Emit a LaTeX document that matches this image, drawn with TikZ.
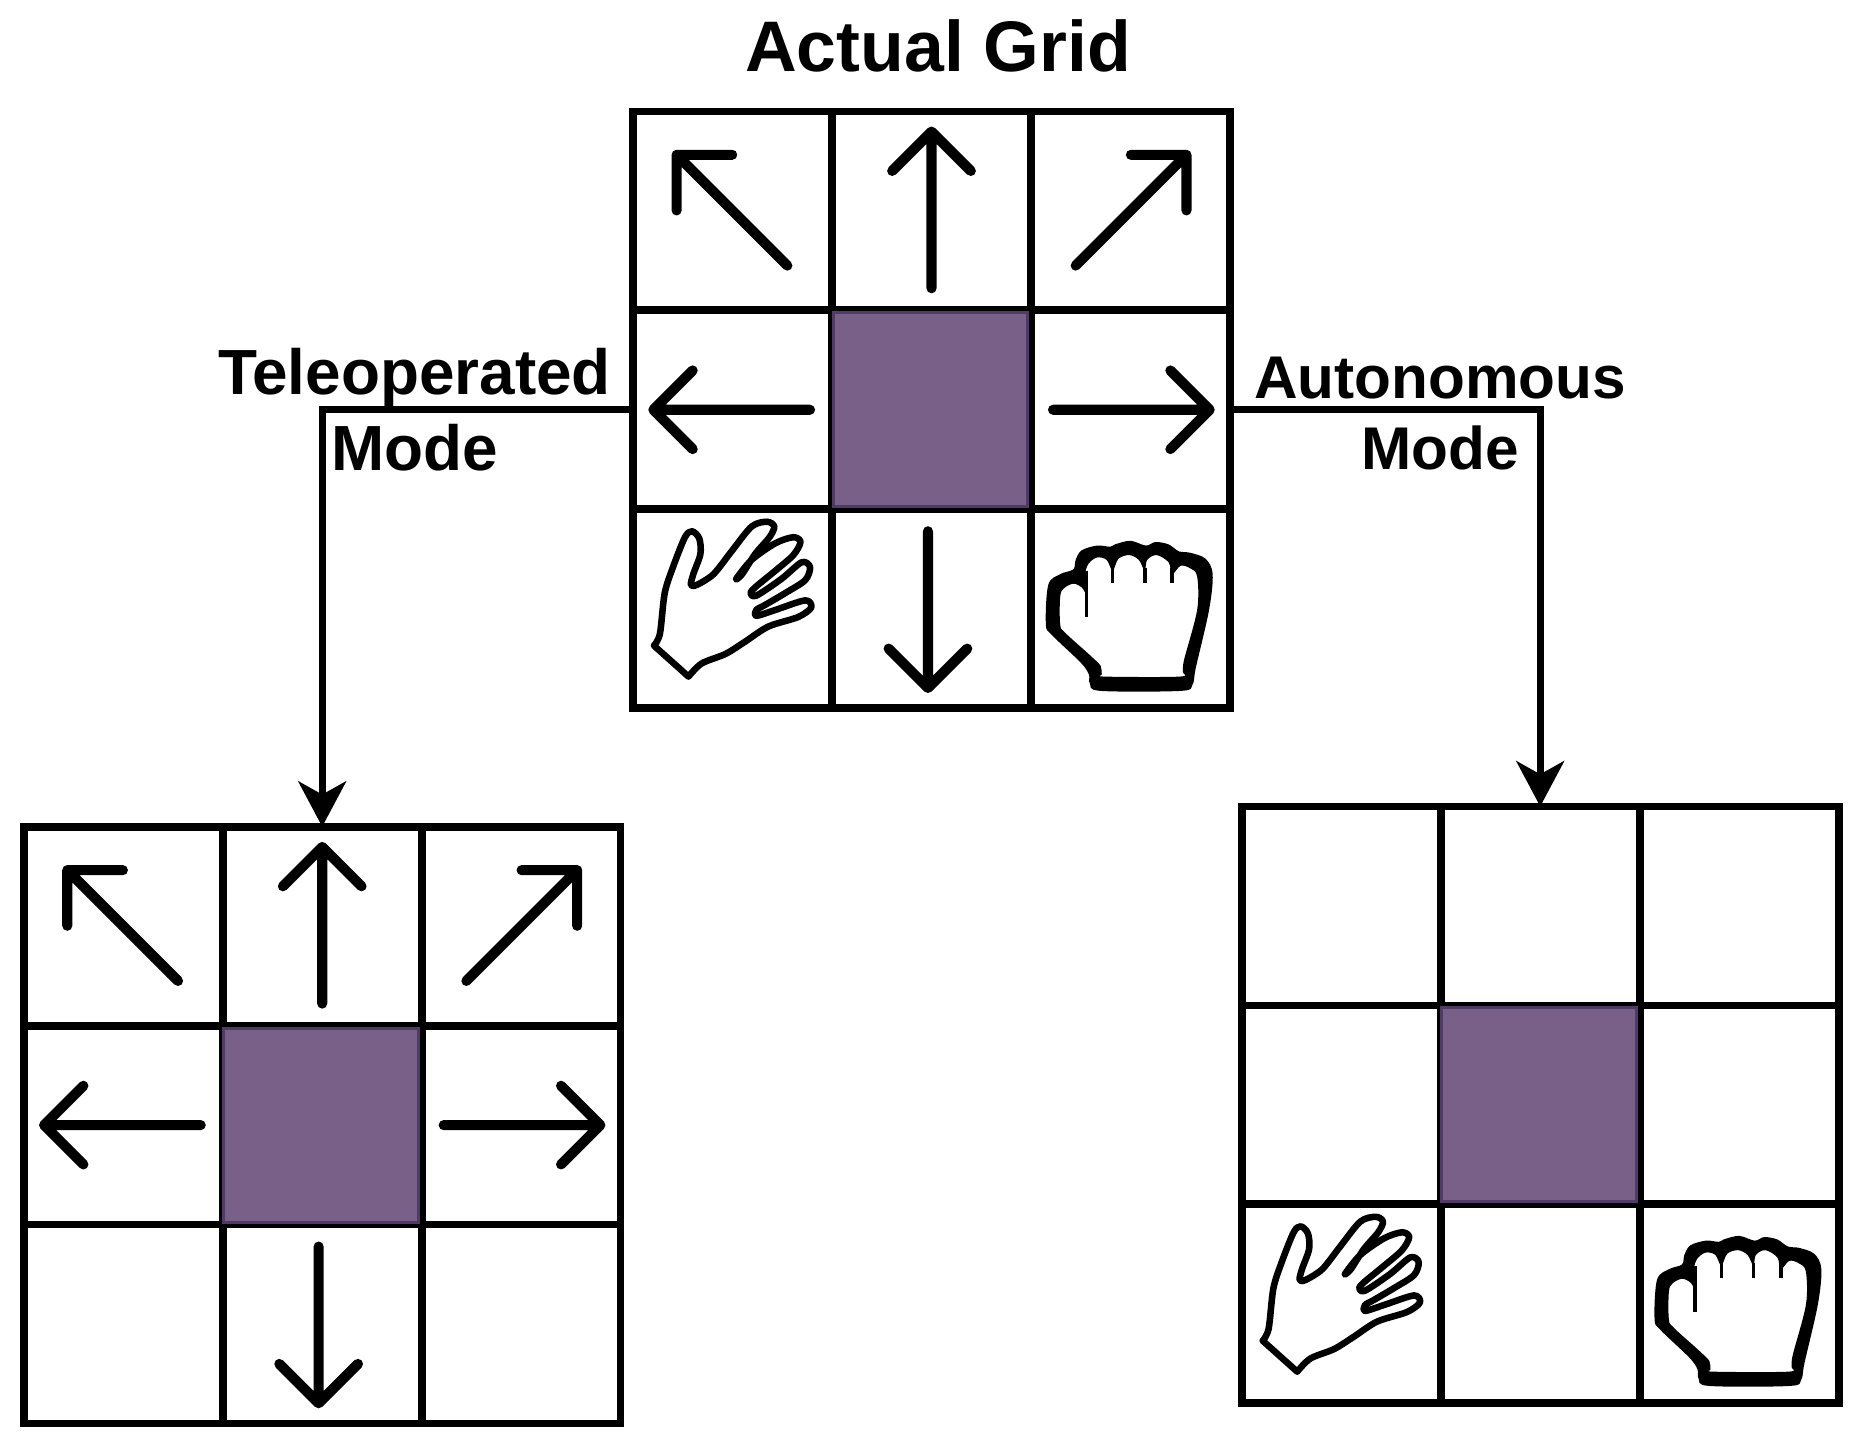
\documentclass[tikz,border=0pt]{standalone}
\usepackage{fontspec}
\setmainfont{Liberation Sans}
\usetikzlibrary{arrows.meta}

\definecolor{gridpurple}{HTML}{786089}
\definecolor{gridborder}{HTML}{4F3B66}

\tikzset{
  cell/.style={draw,line width=.065cm,minimum size=1.67cm,inner sep=0pt,outer sep=0pt},
  centercell/.style={minimum size=1.63cm,inner sep=0pt,fill=gridpurple,draw=gridborder,line width=.025cm},
  linkline/.style={line width=.06cm,-{Stealth[length=.38cm,width=.4cm,inset=.11cm]}},
  modelabel/.style={align=center,inner sep=0pt},
  pics/arrowicon/.style={code={
    \draw[line width=.085cm,line cap=round,line join=round]
      (0,-.65) -- (0,.665) (-.33,.335) -- (0,.665) -- (.33,.335);
  }},
  pics/handicon/.style={code={
    \draw[line width=.055cm,line join=round] plot[smooth,tension=.5] coordinates {
      (-.66,-.31) (-.61,-.21) (-.57,.13) (-.50,.35) (-.40,.60) (-.34,.65) (-.28,.59)
      (-.27,.46) (-.33,.29) (-.35,.20) (-.30,.20) (-.16,.29) (-.01,.48) (.16,.69) (.29,.73)
      (.35,.69) (.31,.60) (.19,.46) (.08,.29) (.03,.25) (.16,.41) (.36,.55) (.51,.60)
      (.57,.56) (.51,.45) (.36,.32) (.19,.18) (.15,.13) (.20,.11) (.41,.25) (.58,.39)
      (.65,.35) (.61,.24) (.44,.13) (.27,.03) (.20,-.01) (.20,-.06) (.36,-.01) (.61,.07)
      (.66,.01) (.55,-.07) (.30,-.15) (.10,-.28) (-.06,-.38) (-.26,-.46) (-.37,-.57)
    } -- cycle;
  }},
  pics/fisticon/.style={code={
    \fill[even odd rule] plot[smooth cycle,tension=.55] coordinates {
      (-.35,-.55) (-.34,-.63) (-.25,-.69) (.42,-.69) (.52,-.64) (.55,-.49) (.66,-.01)
      (.69,.29) (.63,.42) (.50,.47) (.41,.48) (.32,.54) (.21,.56) (.13,.53) (0,.57)
      (-.13,.54) (-.17,.52) (-.28,.53) (-.41,.49) (-.46,.41) (-.48,.33) (-.59,.29)
      (-.69,.20) (-.71,-.13) (-.66,-.22) (-.42,-.45)
    } plot[smooth cycle,tension=.55] coordinates {
      (-.24,-.55) (-.21,-.57) (.41,-.57) (.44,-.53) (.45,-.43) (.56,-.01) (.56,.27)
      (.50,.34) (.42,.36) (.35,.29) (.32,.39) (.22,.45) (.14,.41) (.12,.32) (.07,.41)
      (-.01,.45) (-.10,.42) (-.15,.32) (-.20,.41) (-.28,.43) (-.35,.38) (-.38,.29)
      (-.37,.13) (-.41,.18) (-.48,.21) (-.56,.17) (-.59,.10) (-.59,-.13) (-.55,-.20)
      (-.34,-.39) (-.25,-.48)
    };
    \draw[line width=.03cm] (-.37,.32) -- (-.37,-.07);
    \foreach \knuckle in {-.15,.12,.35}
      \draw[line width=.03cm] (\knuckle,.34) -- (\knuckle,.22);
  }}
}

% nine cells a1..a9, row by row
\newcommand{\cellgrid}[3]{
  \foreach \row in {0,1,2}
    \foreach \col in {0,1,2} {
      \pgfmathtruncatemacro{\idx}{3*\row+\col+1}
      \node[cell] (#1\idx) at ({#2+(\col-1)*1.67},{#3-(\row-1)*1.67}) {};
    }
  \node[centercell] (#1c) at ({#2-.01},#3) {};
}
\newcommand{\arrowset}[1]{
  \foreach \idx/\ang in {1/45,2/0,3/-45,4/90,6/-90}
    \pic[rotate=\ang] at (#1\idx) {arrowicon};
  \pic[rotate=180,xshift=.03cm] at (#18) {arrowicon};
}

\begin{document}
\begin{tikzpicture}
  \useasboundingbox (0,0) rectangle (15.69,12.11);

  \node[font=\fontsize{17.1}{20}\selectfont\bfseries,anchor=base] (title) at (7.875,11.51) {Actual Grid};

  \cellgrid{a}{7.82}{8.67}
  \cellgrid{t}{2.705}{2.665}
  \cellgrid{r}{12.93}{2.835}

  \arrowset{a}
  \arrowset{t}

  \pic at (a7) {handicon};
  \pic at (a9) {fisticon};
  \pic at (r7) {handicon};
  \pic at (r9) {fisticon};

  \node[modelabel,font=\fontsize{15.25}{18.2}\selectfont\bfseries] (telelabel) at (3.48,8.67) {Teleoperated\\Mode};
  \node[modelabel,font=\fontsize{14.4}{17.07}\selectfont\bfseries] (autolabel) at (12.09,8.64) {Autonomous\\Mode};

  \draw[linkline] (a4.west) -| (t2.north);
  \draw[linkline] (a6.east) -| (r2.north);
\end{tikzpicture}
\end{document}
